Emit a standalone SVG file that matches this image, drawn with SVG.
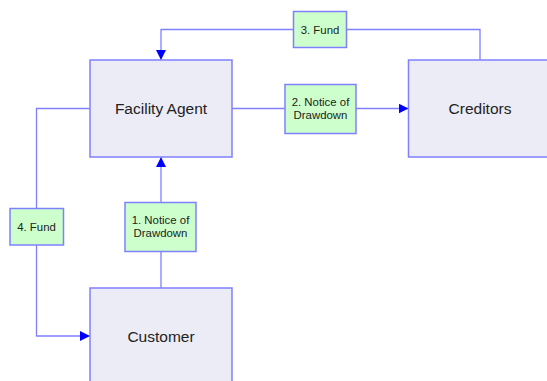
<svg xmlns="http://www.w3.org/2000/svg" width="547" height="381" viewBox="0 0 547 381">
  <style>
    .node { fill: #ECECF6; stroke: #8080FF; stroke-width: 1.5; }
    .label { fill: #CCFFCC; stroke: #8080FF; stroke-width: 1.5; }
    .conn { fill: none; stroke: #8080FF; stroke-width: 1.3; }
    .ntext { font-family: "Liberation Sans", Arial, sans-serif; font-size: 15.5px; fill: #222; text-anchor: middle; }
    .ltext { font-family: "Liberation Sans", Arial, sans-serif; font-size: 11.4px; fill: #222; text-anchor: middle; }
  </style>
  <defs>
    <marker id="arrow" viewBox="0 0 10 10" refX="10" refY="5" markerWidth="10" markerHeight="10" markerUnits="userSpaceOnUse" orient="auto">
      <path d="M0,0 L10,5 L0,10 Z" fill="#0000FF"/>
    </marker>
  </defs>

  <g id="connectors">
    <!-- 3. Fund: Creditors to Facility Agent -->
    <path class="conn" d="M480,60 V29.5 H161 V60" marker-end="url(#arrow)"/>
    <!-- 2. Notice of Drawdown: Facility Agent to Creditors -->
    <path class="conn" d="M232,108.5 H408.5" marker-end="url(#arrow)"/>
    <!-- 4. Fund: Facility Agent to Customer -->
    <path class="conn" d="M90,108.5 H36.5 V336 H90" marker-end="url(#arrow)"/>
    <!-- 1. Notice of Drawdown: Customer to Facility Agent -->
    <path class="conn" d="M161,288 V157" marker-end="url(#arrow)"/>
  </g>

  <g id="facility-agent">
    <rect class="node" x="90" y="60" width="142" height="97"/>
    <text class="ntext" x="161" y="113.5">Facility Agent</text>
  </g>
  <g id="creditors">
    <rect class="node" x="408.5" y="60" width="142" height="97"/>
    <text class="ntext" x="480" y="113.5">Creditors</text>
  </g>
  <g id="customer">
    <rect class="node" x="90" y="288" width="142" height="97"/>
    <text class="ntext" x="161" y="341.5">Customer</text>
  </g>

  <g id="label-fund-3">
    <rect class="label" x="293.5" y="11.5" width="53" height="36"/>
    <text class="ltext" x="320" y="33.5">3. Fund</text>
  </g>
  <g id="label-notice-2">
    <rect class="label" x="285" y="84.5" width="71" height="49"/>
    <text class="ltext" x="320.5" y="105.5">2. Notice of</text>
    <text class="ltext" x="320.5" y="119">Drawdown</text>
  </g>
  <g id="label-fund-4">
    <rect class="label" x="10" y="208.5" width="53.5" height="36.5"/>
    <text class="ltext" x="36.5" y="230.5">4. Fund</text>
  </g>
  <g id="label-notice-1">
    <rect class="label" x="125" y="202.5" width="71" height="49"/>
    <text class="ltext" x="160.5" y="223.5">1. Notice of</text>
    <text class="ltext" x="160.5" y="237">Drawdown</text>
  </g>
</svg>
